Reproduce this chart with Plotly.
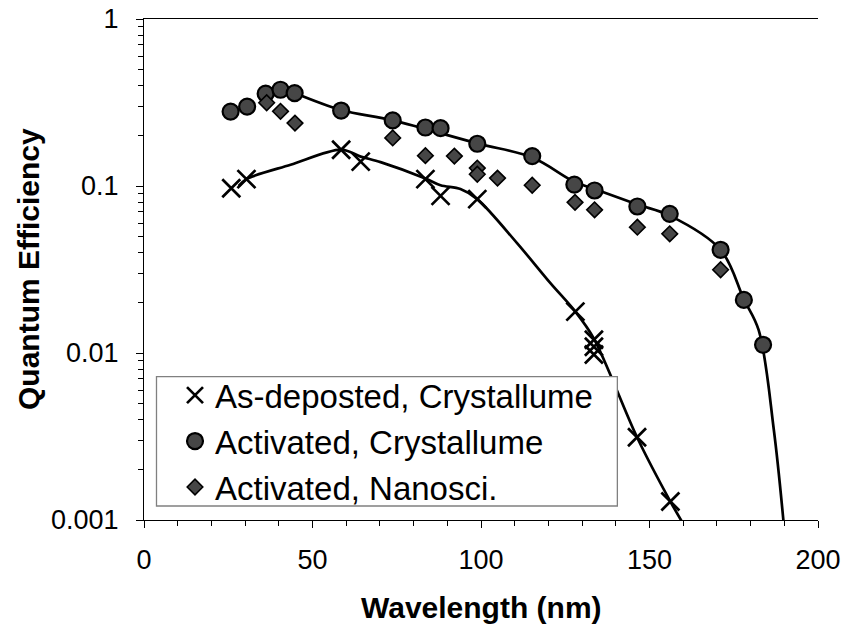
import plotly.graph_objects as go

# ---------------- data ----------------
asdep_x = [25.9, 30.4, 58.5, 64.3, 83.5, 88.0, 98.9, 128.0, 133.5, 133.5, 133.5, 146.3, 156.2]
asdep_y = [0.097, 0.110, 0.165, 0.140, 0.110, 0.0873, 0.0835, 0.0177, 0.0120, 0.0109, 0.0098, 0.00313, 0.00129]

actc_x = [25.7, 30.6, 36.1, 40.5, 44.7, 58.5, 73.8, 83.5, 88.0, 98.9, 115.2, 127.7, 133.7, 146.4, 156.0, 171.1, 178.0, 183.7]
actc_y = [0.279, 0.299, 0.357, 0.377, 0.360, 0.283, 0.247, 0.224, 0.222, 0.179, 0.151, 0.102, 0.094, 0.0754, 0.0681, 0.0415, 0.0208, 0.0112]

actn_x = [36.4, 40.5, 44.8, 73.8, 83.5, 92.1, 98.9, 98.9, 104.9, 115.2, 127.9, 133.7, 146.4, 156.0, 171.1]
actn_y = [0.315, 0.280, 0.238, 0.194, 0.152, 0.151, 0.128, 0.1175, 0.1115, 0.101, 0.0798, 0.072, 0.0567, 0.0517, 0.0315]

# smooth guide curves drawn in the original
fit1_x = [28.1, 30.4, 43.5, 58.5, 64.3, 70.2, 83.5, 88.0, 93.9, 98.9, 110.7, 120.6, 128.0, 133.5, 146.3, 156.2, 160.0]
fit1_y = [0.100, 0.110, 0.134, 0.165, 0.150, 0.139, 0.111, 0.101, 0.0958, 0.0835, 0.0455, 0.0262, 0.0177, 0.0122, 0.00313, 0.00129, 0.00095]

fit2_x = [44.7, 58.5, 73.8, 98.9, 115.2, 127.7, 133.7, 146.4, 156.0, 171.1, 178.0, 182.4, 186.9, 190.0]
fit2_y = [0.360, 0.285, 0.247, 0.180, 0.148, 0.106, 0.096, 0.0775, 0.0665, 0.0415, 0.0210, 0.0137, 0.00346, 0.00087]

names = ["As-deposted, Crystallume", "Activated, Crystallume", "Activated, Nanosci."]
ytick_vals = [0.001, 0.01, 0.1, 1]
ytick_text = ["0.001", "0.01", "0.1", "1"]
yminor_vals = [m * 10 ** e for e in (-3, -2, -1) for m in range(2, 10)]

FONT = "Arial, Liberation Sans, sans-serif"
GRAY = "#464646"

fig = go.Figure()

fig.add_trace(go.Scatter(x=fit1_x, y=fit1_y, mode="lines", line=dict(color="black", width=2.7, shape="spline", smoothing=0.9),
                         showlegend=False, hoverinfo="skip"))
fig.add_trace(go.Scatter(x=fit2_x, y=fit2_y, mode="lines", line=dict(color="black", width=2.7, shape="spline", smoothing=1.0),
                         showlegend=False, hoverinfo="skip"))

fig.add_trace(go.Scatter(x=asdep_x, y=asdep_y, mode="markers", name=names[0],
                         marker=dict(symbol="x-thin", size=18, color="black", line=dict(width=2.7, color="black"))))
fig.add_trace(go.Scatter(x=actc_x, y=actc_y, mode="markers", name=names[1],
                         marker=dict(symbol="circle", size=16, color=GRAY, line=dict(width=2.2, color="black"))))
fig.add_trace(go.Scatter(x=actn_x, y=actn_y, mode="markers", name=names[2],
                         marker=dict(symbol="diamond", size=12, color=GRAY, line=dict(width=1.6, color="black"))))

fig.update_layout(
    width=845, height=632,
    margin=dict(l=143.5, r=27.3, t=19.3, b=112),
    paper_bgcolor="white", plot_bgcolor="white",
    font=dict(family=FONT, color="black"),
    xaxis=dict(range=[0, 200], dtick=50, tick0=0, showgrid=False, zeroline=False,
               showline=True, linecolor="black", linewidth=1.2, mirror=True,
               ticks="outside", ticklen=7, tickwidth=1.2, tickcolor="black",
               tickfont=dict(size=27, family=FONT), ticklabelstandoff=8,
               minor=dict(dtick=10, ticks="outside", ticklen=5, tickwidth=1, tickcolor="black"),
               automargin=False),
    xaxis2=dict(range=[0, 200], dtick=50, tick0=0, overlaying="x", side="bottom", anchor="y",
                showgrid=False, zeroline=False, showline=False, showticklabels=False,
                ticks="inside", ticklen=8, tickwidth=1.2, tickcolor="black", automargin=False),
    yaxis=dict(type="log", range=[-3, 0], tickmode="array", tickvals=ytick_vals, ticktext=ytick_text,
               showgrid=False, zeroline=False, showline=True, linecolor="black", linewidth=1.2,
               ticks="outside", ticklen=7, tickwidth=1.2, tickcolor="black",
               tickfont=dict(size=27, family=FONT), ticklabelstandoff=12,
               minor=dict(tickmode="array", tickvals=yminor_vals, ticks="outside", ticklen=5, tickwidth=1, tickcolor="black"),
               automargin=False),
    yaxis2=dict(overlaying="y", side="right", anchor="x", range=[0, 1], showgrid=False, zeroline=False,
                showline=True, linecolor="#808080", linewidth=2.2, showticklabels=False, ticks="",
                automargin=False),
    legend=dict(x=0.046, y=0.305, xanchor="left", yanchor="top", bgcolor="rgba(0,0,0,0)", borderwidth=0,
                font=dict(size=33, family=FONT, color="black"), tracegroupgap=0),
    showlegend=True,
)

# legend frame (opaque white box with gray border)
fig.add_shape(type="rect", xref="paper", yref="paper",
              x0=(156 - 143.5) / 674.2, x1=(617 - 143.5) / 674.2,
              y0=(520 - 506) / 500.7, y1=(520 - 376.7) / 500.7,
              line=dict(color="#808080", width=1.3), fillcolor="white", layer="above")

# axis titles
fig.add_annotation(text="<b>Wavelength (nm)</b>", xref="paper", yref="paper", x=0.5, y=(520 - 607) / 500.7,
                   showarrow=False, xanchor="center", yanchor="middle", font=dict(size=30, family=FONT, color="black"))
fig.add_annotation(text="<b>Quantum Efficiency</b>", xref="paper", yref="paper", x=(28 - 143.5) / 674.2, y=0.5,
                   textangle=-90, showarrow=False, xanchor="center", yanchor="middle",
                   font=dict(size=30, family=FONT, color="black"))

fig.write_html("out.html")
